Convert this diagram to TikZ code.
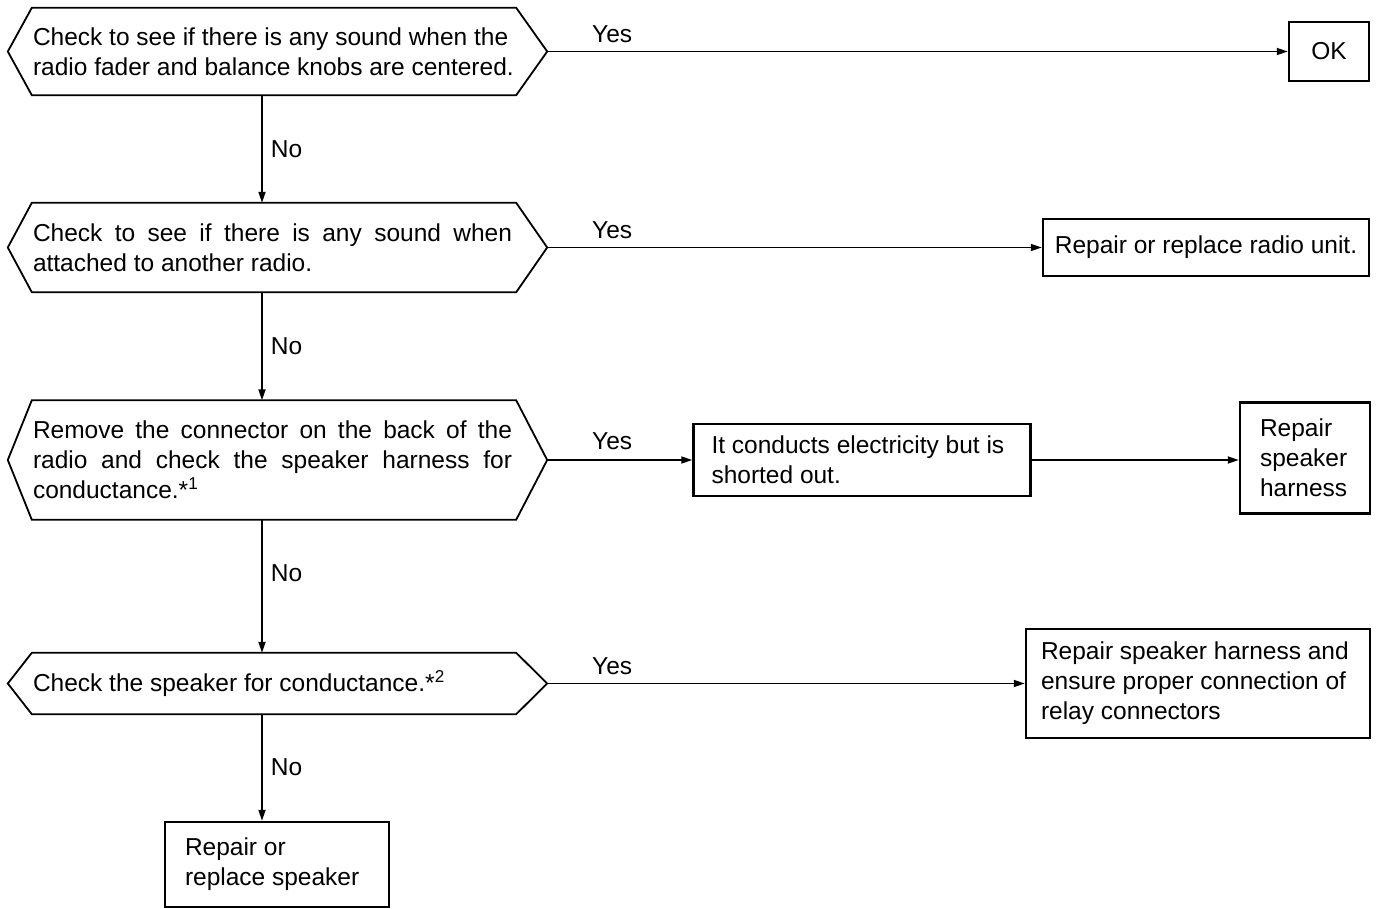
\documentclass[tikz,border=0pt]{standalone}
\usepackage{fontspec}
\setmainfont{Liberation Sans}
\usetikzlibrary{arrows.meta,calc}

% a line stretched to the full width of a justified paragraph
\newcommand\jline[1]{\makebox[479pt][s]{\spaceskip=0.278em plus 1fil\relax #1}}
% six-sided decision outline drawn round a named node
\newcommand\drawhex[1]{%
  \draw[hexline] (#1.west) -- ([xshift=24pt]#1.north west)
    -- ([xshift=-31pt]#1.north east) -- (#1.east)
    -- ([xshift=-31pt]#1.south east) -- ([xshift=24pt]#1.south west) -- cycle;}

\tikzset{
  base/.style={font=\fontsize{24.5}{30}\selectfont},
  hexbox/.style={base, rectangle, draw=none, inner sep=0pt,
    minimum width=539pt, text width=489pt, align=flush left},
  hexline/.style={line width=1.8pt, line join=miter},
  result/.style={base, rectangle, draw, line width=2.5pt, inner ysep=0pt, align=flush left},
  arr/.style={line width=1.7pt, -{Triangle[length=11pt,width=7pt]}},
  lab/.style={base, inner sep=0pt},
}

\begin{document}
\begin{tikzpicture}[x=1pt, y=-1pt]
\useasboundingbox (0,0) rectangle (1378,909);

% decisions
\node[hexbox, minimum height=87pt] (h1) at (277.5,51.5)
  {Check to see if there is any sound when the\\radio fader and balance knobs are centered.};
\node[hexbox, minimum height=89pt] (h2) at (277.5,247.5)
  {\jline{Check to see if there is any sound when}\\attached to another radio.};
\node[hexbox, minimum height=119pt] (h3) at (277.5,460)
  {\jline{Remove the connector on the back of the}\\\jline{radio and check the speaker harness for}\\conductance.*\textsuperscript{1}};
\node[hexbox, minimum height=61pt] (h4) at (277.5,683.5)
  {Check the speaker for conductance.*\textsuperscript{2}};
\drawhex{h1}
\drawhex{h2}
\drawhex{h3}
\drawhex{h4}

% outcomes
\node[result, inner xsep=0pt, minimum width=80pt, minimum height=59pt] (ok) at (1329,51.5) {OK};
\node[result, inner xsep=0pt, minimum width=326pt, minimum height=57pt] (radio) at (1206,247.5)
  {Repair or replace radio unit.};
\node[result, inner xsep=18pt, text width=301pt, minimum height=72pt] (cond) at (862,460)
  {It conducts electricity but is\\shorted out.};
\node[result, inner xsep=20pt, text width=90pt, minimum height=111pt] (harn) at (1305,458)
  {Repair\\speaker\\harness};
\node[result, inner xsep=15pt, text width=314pt, minimum height=109pt] (relay) at (1198,683.5)
  {Repair speaker harness and\\ensure proper connection of\\relay connectors};
\node[result, inner xsep=20pt, text width=184pt, minimum height=85pt] (spk) at (277,864.5)
  {Repair or\\replace speaker};

% "No" branches
\draw[arr] ([xshift=-15.5pt]h1.south) -- ([xshift=-15.5pt]h2.north)
  node[lab, midway, right=8pt] (n1) {No};
\draw[arr] ([xshift=-15.5pt]h2.south) -- ([xshift=-15.5pt]h3.north)
  node[lab, midway, right=8pt] (n2) {No};
\draw[arr] ([xshift=-15.5pt]h3.south) -- ([xshift=-15.5pt]h4.north)
  node[lab, pos=0.4, right=8pt] (n3) {No};
\draw[arr] ([xshift=-15.5pt]h4.south) -- ([xshift=-15pt]spk.north)
  node[lab, midway, right=8pt] (n4) {No};

% "Yes" branches
\draw[arr] (h1.east) -- (ok.west);
\draw[arr] (h2.east) -- (radio.west);
\draw[arr] (h3.east) -- (cond.west);
\draw[arr] (cond.east) -- (cond.east -| harn.west);
\draw[arr] (h4.east) -- (relay.west);
\path (h1.east) ++(65,-17.5) node[lab] (y1) {Yes};
\path (h2.east) ++(65,-17.5) node[lab] (y2) {Yes};
\path (h3.east) ++(65,-19) node[lab] (y3) {Yes};
\path (h4.east) ++(65,-17.5) node[lab] (y4) {Yes};
\end{tikzpicture}
\end{document}
